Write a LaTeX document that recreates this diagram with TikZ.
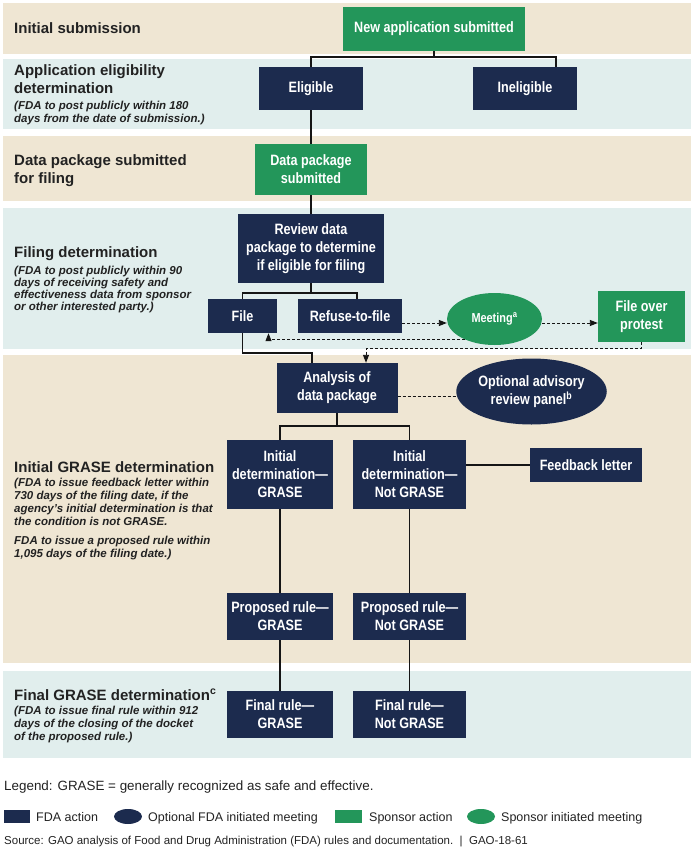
\documentclass[tikz,border=0pt]{standalone}
\usepackage{fontspec}
\setmainfont{Liberation Sans}
\newfontfamily\condfont[FakeStretch=0.84]{Liberation Sans}
\usetikzlibrary{arrows.meta,shapes.geometric}

\definecolor{gaonavy}{HTML}{1C2B4E}
\definecolor{gaogreen}{HTML}{23965A}
\definecolor{gaobeige}{HTML}{EFE6D3}
\definecolor{gaoblue}{HTML}{E1EEED}
\definecolor{gaotext}{HTML}{222222}
\definecolor{gaoline}{HTML}{151515}

\begin{document}
\begin{tikzpicture}[x=1pt, y=-1pt,
  fdabox/.style={rectangle, fill=gaonavy, text=white, inner sep=0pt, align=center,
    font=\condfont\bfseries\fontsize{15}{18}\selectfont},
  sponsorbox/.style={fdabox, fill=gaogreen},
  fdameet/.style={fdabox, shape=ellipse},
  sponsormeet/.style={sponsorbox, shape=ellipse},
  heading/.style={anchor=base west, inner sep=0pt, align=left, text=gaotext,
    font=\bfseries\fontsize{15}{18}\selectfont},
  note/.style={anchor=base west, inner sep=0pt, align=left, text=gaotext,
    font=\bfseries\itshape\fontsize{11.5}{13}\selectfont},
  keytext/.style={anchor=base west, inner sep=0pt, text=gaotext,
    font=\fontsize{12.5}{15}\selectfont},
  link/.style={line width=1.8pt, gaoline},
  dashlink/.style={line width=0.9pt, gaoline, dash pattern=on 3pt off 2pt},
  dasharrow/.style={dashlink, -{Triangle[length=8pt,width=6pt]}},
]
  \useasboundingbox (0,0) rectangle (694,850);

  % bands
  \fill[gaobeige] (3,3) rectangle (691,54);
  \fill[gaoblue] (3,59) rectangle (691,129);
  \fill[gaobeige] (3,136) rectangle (691,201);
  \fill[gaoblue] (3,208) rectangle (691,349);
  \fill[gaobeige] (3,355) rectangle (691,663);
  \fill[gaoblue] (3,671) rectangle (691,758);

  % steps
  \node[sponsorbox, minimum width=182, minimum height=44] (newapp) at (434,29) {New application submitted};
  \node[fdabox, minimum width=104, minimum height=43] (eligible) at (311,88.5) {Eligible};
  \node[fdabox, minimum width=104, minimum height=43] (ineligible) at (525,88.5) {Ineligible};
  \node[sponsorbox, minimum width=112, minimum height=51] (datapkg) at (311,169.5) {Data package\\submitted};
  \node[fdabox, minimum width=146, minimum height=69] (review) at (311,248.5) {Review data\\package to determine\\if eligible for filing};
  \node[fdabox, minimum width=69, minimum height=34] (file) at (242.5,316) {File};
  \node[fdabox, minimum width=104, minimum height=34] (refuse) at (350,316) {Refuse-to-file};
  \node[sponsormeet, minimum width=95, minimum height=52, font=\condfont\bfseries\fontsize{13}{16}\selectfont] (meeting) at (494.5,319) {Meeting\textsuperscript{a}};
  \node[sponsorbox, minimum width=87, minimum height=51] (fop) at (641.5,316.5) {File over\\protest};
  \node[fdabox, minimum width=121, minimum height=50] (analysis) at (337,388) {Analysis of\\data package};
  \node[fdameet, minimum width=97, minimum height=66] (panel) at (531.5,391.5) {Optional advisory\\review panel\textsuperscript{b}};
  \node[fdabox, minimum width=106, minimum height=69] (initg) at (280,474.5) {Initial\\determination—\\GRASE};
  \node[fdabox, minimum width=113, minimum height=69] (initng) at (409.5,474.5) {Initial\\determination—\\Not GRASE};
  \node[fdabox, minimum width=112, minimum height=34] (feedback) at (586,465) {Feedback letter};
  \node[fdabox, minimum width=106, minimum height=47] (propg) at (280,616.5) {Proposed rule—\\GRASE};
  \node[fdabox, minimum width=113, minimum height=47] (propng) at (409.5,616.5) {Proposed rule—\\Not GRASE};
  \node[fdabox, minimum width=106, minimum height=47] (fing) at (280,714.5) {Final rule—\\GRASE};
  \node[fdabox, minimum width=113, minimum height=47] (finng) at (409.5,714.5) {Final rule—\\Not GRASE};

  % solid links
  \draw[link] (newapp.south) -- ++(0,6) -| (eligible.north);
  \draw[link] (newapp.south) -- ++(0,6) -| ([xshift=31pt]ineligible.north);
  \draw[link] (eligible.south) -- (datapkg.north);
  \draw[link] (datapkg.south) -- (review.north);
  \draw[link] (review.south) -- ++(0,10) -| (file.north);
  \draw[link] (review.south) -- ++(0,10) -| ([xshift=7pt]refuse.north);
  \draw[link] (file.south) -- ++(0,20) -| ([xshift=-25pt]analysis.north);
  \draw[link] (analysis.south) -- ++(0,13) -| (initg.north);
  \draw[link] (analysis.south) -- ++(0,13) -| (initng.north);
  \draw[link] (initg.south) -- (propg.north);
  \draw[link] (initng.south) -- (propng.north);
  \draw[link] (propg.south) -- (fing.north);
  \draw[link] (propng.south) -- (finng.north);
  \draw[link] (initng.east |- feedback.west) -- (feedback.west);

  % dashed links
  \coordinate (mtgin) at ([yshift=-4pt]meeting.west);
  \coordinate (mtgout) at ([yshift=-4pt]meeting.east);
  \coordinate (panelin) at ([yshift=-8pt]analysis.east);
  \draw[dasharrow] (mtgin -| refuse.east) -- (mtgin);
  \draw[dasharrow] (mtgout) -- (mtgout -| fop.west);
  \draw[dasharrow] (meeting.215) -| ([xshift=26pt]file.south);
  \draw[dasharrow] (fop.south) -- ++(0,6) -| ([xshift=29pt]analysis.north);
  \draw[dashlink] (panelin) -- (panelin -| panel.west);

  % stage labels (placed by the baseline of their last line)
  \node[heading] (hdsubmit) at (14,34) {Initial submission};
  \node[heading] (hdelig) at (14,94) {Application eligibility\\determination};
  \node[note] (ntelig) at (14,123) {(FDA to post publicly within 180\\days from the date of submission.)};
  \node[heading] (hddata) at (14,184) {Data package submitted\\for filing};
  \node[heading] (hdfiling) at (14,257) {Filing determination};
  \node[note, font=\bfseries\itshape\fontsize{11.5}{12}\selectfont] (ntfiling) at (14,310) {(FDA to post publicly within 90\\days of receiving safety and\\effectiveness data from sponsor\\or other interested party.)};
  \node[heading] (hdinitial) at (14,472) {Initial GRASE determination};
  \node[note] (ntinitial) at (14,525) {(FDA to issue feedback letter within\\730 days of the filing date, if the\\agency’s initial determination is that\\the condition is not GRASE.};
  \node[note] (ntpropose) at (14,557) {FDA to issue a proposed rule within\\1,095 days of the filing date.)};
  \node[heading] (hdfinal) at (14,700) {Final GRASE determination\textsuperscript{c}};
  \node[note] (ntfinal) at (14,740) {(FDA to issue final rule within 912\\days of the closing of the docket\\of the proposed rule.)};

  % legend
  \node[keytext, font=\fontsize{13.4}{16}\selectfont] (legendline) at (4,790) {Legend: GRASE = generally recognized as safe and effective.};
  \node[fdabox, minimum width=26, minimum height=13] (keyfda) at (17,816.5) {};
  \node[keytext] (keyfdatext) at (36,821) {FDA action};
  \node[fdameet, minimum width=28, minimum height=15] (keypanel) at (128,816.5) {};
  \node[keytext] (keypaneltext) at (148,821) {Optional FDA initiated meeting};
  \node[sponsorbox, minimum width=27, minimum height=13] (keysponsor) at (348.5,816.5) {};
  \node[keytext] (keysponsortext) at (369,821) {Sponsor action};
  \node[sponsormeet, minimum width=28, minimum height=15] (keymeet) at (481,816.5) {};
  \node[keytext] (keymeettext) at (501,821) {Sponsor initiated meeting};
  \node[keytext, font=\fontsize{11.5}{13}\selectfont] (source) at (4,844) {Source: GAO analysis of Food and Drug Administration (FDA) rules and documentation.\ \ |\ \ GAO-18-61};
\end{tikzpicture}
\end{document}
